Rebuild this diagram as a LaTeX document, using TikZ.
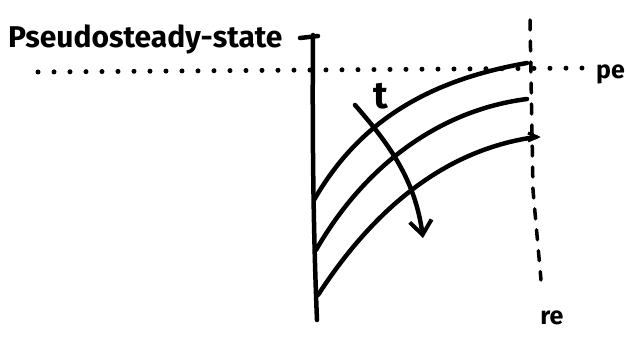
\documentclass[tikz,border=0pt]{standalone}
\usepackage{fontspec}
\setmainfont{Fira Sans}
\usetikzlibrary{arrows.meta, positioning}

\tikzset{
  ink/.style={line width=4.5pt, line cap=round, line join=round},
  dotline/.style={line width=5pt, line cap=round, dash pattern=on 0pt off 16pt},
  dashline/.style={line width=3.5pt, line cap=round, dash pattern=on 10pt off 11pt},
  handlabel/.style={inner sep=0pt, font=\fontsize{30}{30}\selectfont\bfseries},
  endlabel/.style={inner sep=0pt, font=\fontsize{25}{25}\selectfont\bfseries}
}

\begin{document}
\begin{tikzpicture}[x=1pt, y=-1pt]
  \useasboundingbox (0,0) rectangle (627,337);
  % wall and reference lines
  \coordinate (wtop) at (313,35);
  \coordinate (wbot) at (317,320);
  \draw[ink] (wtop) .. controls (312,150) and (314,250) .. (wbot);
  \draw[ink] (300,38) -- (318,36);
  \coordinate (dl) at (38,72);
  \coordinate (dr) at (588,68);
  \draw[dotline] (dl) -- (dr);
  \coordinate (etop) at (530,20);
  \coordinate (ebot) at (541,280);
  \draw[dashline] (etop) -- (533,190) -- (ebot);
  % labels
  \node[handlabel, anchor=base west] (pss) at (8,48) {Pseudosteady-state};
  \node[endlabel, anchor=base west] (pe) at (596,78) {pe};
  \node[endlabel, anchor=base] (re) at (552,324) {re};
  % pressure profiles
  \coordinate (a1) at (314,200); \coordinate (b1) at (527,63);
  \coordinate (a2) at (316,250); \coordinate (b2) at (527,99);
  \coordinate (a3) at (318,295); \coordinate (b3) at (536,137);
  \draw[ink] (a1) .. controls (360,120) and (430,80) .. (b1);
  \draw[ink] (a2) .. controls (365,165) and (440,110) .. (b2);
  \draw[ink] (a3) .. controls (370,215) and (440,150) .. (b3);
  \draw[line width=3pt] (528,133) -- (537,137) -- (528,141);
  % time arrow
  \coordinate (ts) at (355,105);
  \coordinate (te) at (423,238);
  \draw[ink, -{Straight Barb[length=14pt, width=22pt, line width=4pt]}] (ts) .. controls (390,145) and (415,180) .. (te);
  \node[handlabel, font=\fontsize{38}{38}\selectfont\bfseries, anchor=base] (t) at (381,108) {t};
\end{tikzpicture}
\end{document}
